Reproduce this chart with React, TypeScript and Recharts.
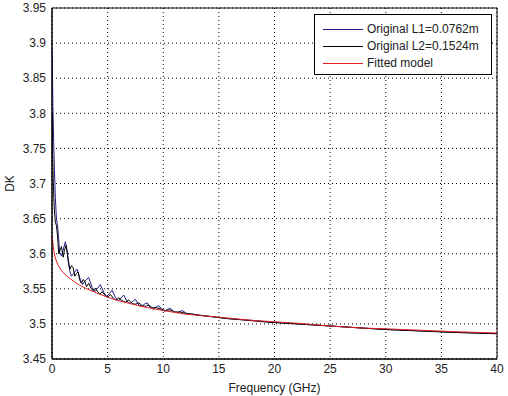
import React from "react";
import { LineChart, Line, XAxis, YAxis, CartesianGrid, ReferenceArea, Label } from "recharts";

const xTicks = [0, 5, 10, 15, 20, 25, 30, 35, 40];
const yTicks = [3.45, 3.5, 3.55, 3.6, 3.65, 3.7, 3.75, 3.8, 3.85, 3.9, 3.95];

const l1Freq = [0.02, 0.08, 0.15, 0.22, 0.3, 0.4, 0.5, 0.6, 0.7, 0.85, 1.0, 1.2, 1.4, 1.6, 1.75, 1.95, 2.25, 2.55, 2.75, 3.0, 3.3, 3.6, 3.85, 4.1, 4.35, 4.65, 4.9, 5.15, 5.4, 5.7, 5.95, 6.2, 6.45, 6.75, 7.0, 7.25, 7.5, 7.8, 8.05, 8.3, 8.55, 8.85, 9.1, 9.35, 9.6, 9.9, 10.15, 10.4, 10.65, 11, 11.3, 11.7, 12.2, 12.7, 13.3, 14, 15, 16, 18, 20, 22, 25, 28, 30, 33, 36, 40];
const l1Vals = [3.89, 3.81, 3.76, 3.72, 3.68, 3.65, 3.64, 3.62, 3.6, 3.597, 3.605, 3.617, 3.6, 3.575, 3.568, 3.572, 3.578, 3.563, 3.556, 3.562, 3.566, 3.552, 3.546, 3.551, 3.556, 3.545, 3.539, 3.543, 3.548, 3.538, 3.533, 3.537, 3.541, 3.532, 3.529, 3.532, 3.535, 3.527, 3.525, 3.528, 3.53, 3.523, 3.521, 3.524, 3.526, 3.52, 3.518, 3.521, 3.522, 3.517, 3.516, 3.519, 3.514, 3.514, 3.512, 3.511, 3.509, 3.507, 3.505, 3.502, 3.5, 3.497, 3.494, 3.492, 3.49, 3.488, 3.486];

const l2Freq = [0.02, 0.06, 0.12, 0.2, 0.3, 0.4, 0.5, 0.6, 0.72, 0.85, 1.0, 1.12, 1.28, 1.45, 1.6, 1.75, 1.9, 2.05, 2.2, 2.35, 2.5, 2.65, 2.8, 2.95, 3.1, 3.3, 3.5, 3.7, 3.9, 4.1, 4.3, 4.5, 4.75, 5.0, 5.25, 5.5, 5.75, 6.0, 6.3, 6.6, 6.9, 7.2, 7.5, 7.8, 8.1, 8.4, 8.7, 9.0, 9.4, 9.8, 10.2, 10.6, 11.0, 11.5, 12, 13, 14, 15, 17, 19, 21, 24, 27, 30, 33, 36, 40];
const l2Vals = [3.8, 3.74, 3.7, 3.665, 3.645, 3.64, 3.625, 3.6, 3.605, 3.61, 3.595, 3.605, 3.612, 3.59, 3.578, 3.583, 3.58, 3.568, 3.572, 3.574, 3.562, 3.558, 3.563, 3.561, 3.553, 3.558, 3.551, 3.547, 3.551, 3.546, 3.542, 3.546, 3.541, 3.538, 3.542, 3.537, 3.534, 3.537, 3.533, 3.531, 3.534, 3.529, 3.528, 3.53, 3.526, 3.525, 3.527, 3.523, 3.523, 3.521, 3.519, 3.52, 3.517, 3.517, 3.515, 3.513, 3.511, 3.509, 3.506, 3.503, 3.501, 3.498, 3.495, 3.492, 3.49, 3.488, 3.486];

const fitFreq = [0.02, 0.1, 0.2, 0.3, 0.5, 0.75, 1, 1.5, 2, 2.5, 3, 4, 5, 6, 7, 8, 9, 10, 12, 14, 16, 18, 20, 22, 25, 28, 30, 33, 36, 40];
const fitVals = [3.626, 3.612, 3.601, 3.594, 3.585, 3.578, 3.573, 3.566, 3.56, 3.555, 3.551, 3.544, 3.538, 3.533, 3.529, 3.525, 3.522, 3.519, 3.514, 3.511, 3.508, 3.505, 3.503, 3.501, 3.497, 3.494, 3.493, 3.491, 3.489, 3.487];

const toData = (fs: number[], vs: number[]) => fs.map((f, i) => ({ f, v: vs[i] }));

const series = [
  { name: "Original L1=0.0762m", color: "#20208c", data: toData(l1Freq, l1Vals) },
  { name: "Original L2=0.1524m", color: "#000000", data: toData(l2Freq, l2Vals) },
  { name: "Fitted model", color: "#e02020", data: toData(fitFreq, fitVals) },
];

const font = "'Liberation Sans', Arial, sans-serif";
const tickStyle = { fontSize: 12, fill: "#222", fontFamily: font };

export default function App() {
  return (
    <div style={{ position: "absolute", left: 0, top: 0, width: 508, height: 396, background: "#fff" }}>
      <LineChart width={508} height={396} margin={{ top: 8, right: 11, left: 0, bottom: 0 }}>
        <CartesianGrid strokeDasharray="1 3" stroke="#000" />
        <XAxis
          dataKey="f"
          type="number"
          domain={[0, 40]}
          ticks={xTicks}
          allowDataOverflow
          height={37}
          tickLine={false}
          tickSize={5}
          tickMargin={0}
          axisLine={{ stroke: "#000" }}
          tick={tickStyle}
        >
          <Label value="Frequency (GHz)" position="insideBottom" offset={4} style={{ fontSize: 12, fill: "#222", fontFamily: font }} />
        </XAxis>
        <YAxis
          type="number"
          domain={[3.45, 3.95]}
          ticks={yTicks}
          allowDataOverflow
          width={52}
          tickLine={false}
          tickSize={6}
          tickMargin={0}
          axisLine={{ stroke: "#000" }}
          tick={tickStyle}
          tickFormatter={(v: number) => String(+v.toFixed(2))}
        >
          <Label value="DK" angle={-90} position="insideLeft" offset={10} style={{ fontSize: 12, fill: "#222", fontFamily: font, textAnchor: "middle" }} />
        </YAxis>
        <ReferenceArea x1={0} x2={40} y1={3.45} y2={3.95} fill="none" fillOpacity={0} stroke="#000" strokeWidth={1} />
        {series.map((s) => (
          <Line
            key={s.name}
            data={s.data}
            dataKey="v"
            name={s.name}
            type="linear"
            stroke={s.color}
            strokeWidth={1}
            dot={false}
            isAnimationActive={false}
          />
        ))}
      </LineChart>
      <div
        style={{
          position: "absolute",
          left: 314,
          top: 14,
          width: 178,
          height: 61,
          border: "1px solid #000",
          background: "#fff",
          fontFamily: font,
          fontSize: 12,
          color: "#222",
          boxSizing: "border-box",
          paddingTop: 6,
        }}
      >
        {series.map((s) => (
          <div key={s.name} style={{ display: "flex", alignItems: "center", height: 16, marginBottom: 1 }}>
            <div style={{ width: 40, height: 1, background: s.color, marginLeft: 8, marginRight: 4 }} />
            <span>{s.name}</span>
          </div>
        ))}
      </div>
    </div>
  );
}
